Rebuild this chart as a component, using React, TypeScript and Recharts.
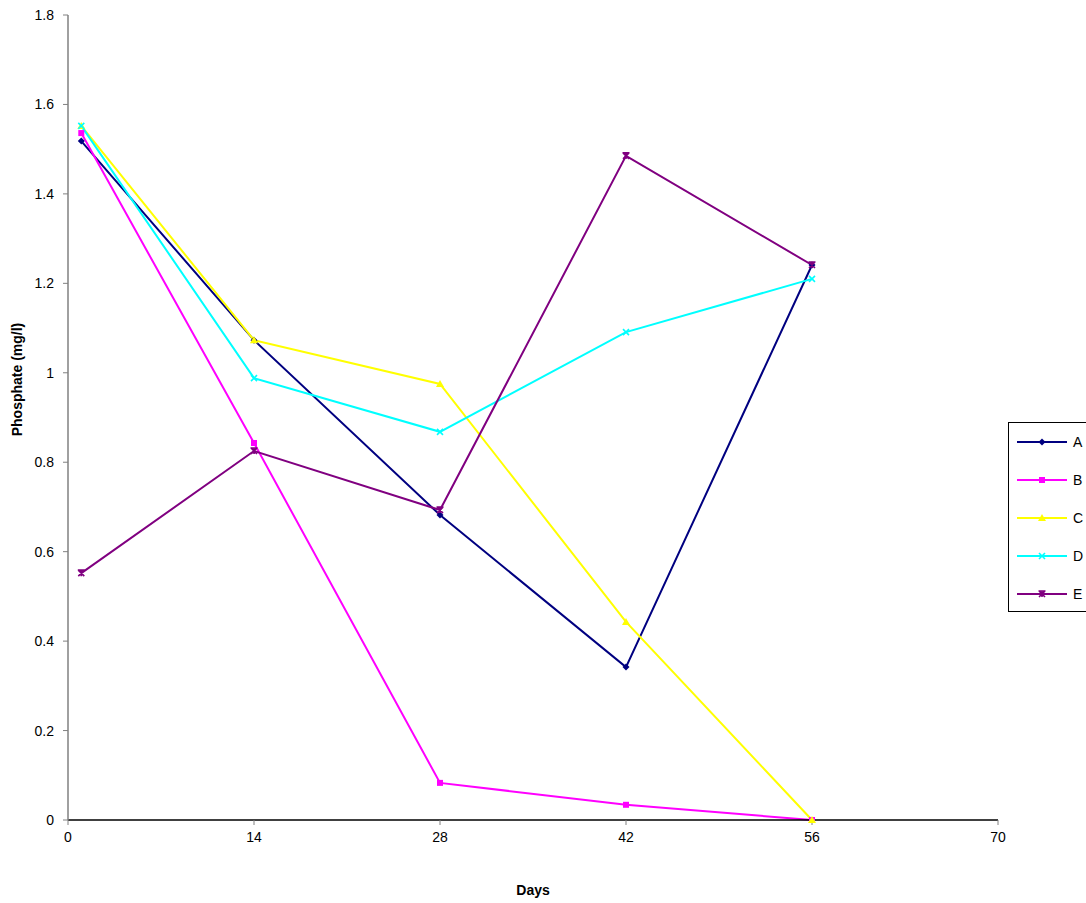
import { Label, Legend, Line, LineChart, XAxis, YAxis } from "recharts";

const days = [1, 14, 28, 42, 56];
const seriesA = [1.518, 1.073, 0.682, 0.342, 1.241];
const seriesB = [1.536, 0.843, 0.083, 0.034, 0];
const seriesC = [1.552, 1.073, 0.975, 0.443, 0];
const seriesD = [1.552, 0.988, 0.868, 1.091, 1.21];
const seriesE = [0.552, 0.825, 0.693, 1.485, 1.241];
const xTicks = [0, 14, 28, 42, 56, 70];
const yTicks = [0, 0.2, 0.4, 0.6, 0.8, 1, 1.2, 1.4, 1.6, 1.8];

const data = days.map((day, i) => ({
  day,
  A: seriesA[i],
  B: seriesB[i],
  C: seriesC[i],
  D: seriesD[i],
  E: seriesE[i],
}));

type Shape = "diamond" | "square" | "triangle" | "cross" | "star";

const series: { key: string; color: string; shape: Shape }[] = [
  { key: "A", color: "#000080", shape: "diamond" },
  { key: "B", color: "#FF00FF", shape: "square" },
  { key: "C", color: "#FFFF00", shape: "triangle" },
  { key: "D", color: "#00FFFF", shape: "cross" },
  { key: "E", color: "#800080", shape: "star" },
];

const FONT = "'Liberation Sans', Arial, sans-serif";

function Marker({ cx, cy, shape, color }: { cx: number; cy: number; shape: Shape; color: string }) {
  if (shape === "diamond") {
    return <path d={`M${cx},${cy - 3.5}L${cx + 3.5},${cy}L${cx},${cy + 3.5}L${cx - 3.5},${cy}Z`} fill={color} />;
  }
  if (shape === "square") {
    return <rect x={cx - 3} y={cy - 3} width={6} height={6} fill={color} />;
  }
  if (shape === "triangle") {
    return <path d={`M${cx},${cy - 4}L${cx + 4},${cy + 3}L${cx - 4},${cy + 3}Z`} fill={color} />;
  }
  if (shape === "cross") {
    return (
      <path
        d={`M${cx - 3},${cy - 3}L${cx + 3},${cy + 3}M${cx + 3},${cy - 3}L${cx - 3},${cy + 3}`}
        stroke={color}
        strokeWidth={1.6}
      />
    );
  }
  return (
    <path
      d={`M${cx - 3},${cy - 3}L${cx + 3},${cy + 3}M${cx + 3},${cy - 3}L${cx - 3},${cy + 3}M${cx - 3.5},${cy - 3}L${cx + 3.5},${cy - 3}M${cx},${cy - 3}L${cx},${cy + 3}`}
      stroke={color}
      strokeWidth={1.6}
    />
  );
}

function makeDot(shape: Shape, color: string) {
  return (props: any) => {
    const { cx, cy, index } = props;
    if (cx == null || cy == null) return <g key={`d-${index}`} />;
    return (
      <g key={`d-${shape}-${index}`}>
        <Marker cx={cx} cy={cy} shape={shape} color={color} />
      </g>
    );
  };
}

function LegendBox() {
  return (
    <div
      style={{
        width: 90,
        height: 190,
        border: "1px solid #000",
        background: "#fff",
        boxSizing: "border-box",
      }}
    >
      <svg width={90} height={190}>
        {series.map((s, i) => {
          const y = 19 + i * 38;
          return (
            <g key={s.key}>
              <line x1={8} x2={58} y1={y} y2={y} stroke={s.color} strokeWidth={2} />
              <Marker cx={33} cy={y} shape={s.shape} color={s.color} />
              <text x={64} y={y + 5} fontSize={14} fontFamily={FONT} fill="#000">
                {s.key}
              </text>
            </g>
          );
        })}
      </svg>
    </div>
  );
}

const fmt = (v: number) => String(Number(v.toFixed(1)));

export default function App() {
  return (
    <div style={{ position: "absolute", left: 0, top: 0, background: "#fff" }}>
      <LineChart
        width={1086}
        height={903}
        data={data}
        margin={{ top: 15, right: 88, bottom: 0, left: 8 }}
      >
        <XAxis
          type="number"
          dataKey="day"
          domain={[0, 70]}
          ticks={xTicks}
          interval={0}
          height={83}
          tickSize={5}
          tickMargin={7}
          axisLine={{ stroke: "#000", strokeWidth: 1.5 }}
          tickLine={{ stroke: "#808080" }}
          tick={{ fill: "#000", fontSize: 14, fontFamily: FONT }}
        >
          <Label
            value="Days"
            position="insideBottom"
            offset={8}
            style={{ fontWeight: "bold", fontSize: 14, fontFamily: FONT, fill: "#000" }}
          />
        </XAxis>
        <YAxis
          type="number"
          domain={[0, 1.8]}
          ticks={yTicks}
          interval={0}
          width={60}
          tickSize={5}
          tickMargin={9}
          tickFormatter={fmt}
          axisLine={{ stroke: "#808080", strokeWidth: 1.5 }}
          tickLine={{ stroke: "#808080" }}
          tick={{ fill: "#000", fontSize: 14, fontFamily: FONT }}
        >
          <Label
            content={(props: any) => {
              const vb = props.viewBox || { x: 8, y: 15, width: 60, height: 805 };
              const x = vb.x + 9;
              const y = vb.y + vb.height / 2 - 38;
              return (
                <text
                  x={x}
                  y={y}
                  transform={`rotate(-90 ${x} ${y})`}
                  textAnchor="middle"
                  dominantBaseline="central"
                  fontSize={14}
                  fontWeight="bold"
                  fontFamily={FONT}
                  fill="#000"
                >
                  Phosphate (mg/l)
                </text>
              );
            }}
          />
        </YAxis>
        <Legend
          layout="vertical"
          align="center"
          verticalAlign="middle"
          wrapperStyle={{ left: 1008, top: 422, width: 90 }}
          content={() => <LegendBox />}
        />
        {series.map((s) => (
          <Line
            key={s.key}
            type="linear"
            dataKey={s.key}
            stroke={s.color}
            strokeWidth={2}
            dot={makeDot(s.shape, s.color)}
            activeDot={false}
            isAnimationActive={false}
          />
        ))}
      </LineChart>
    </div>
  );
}
